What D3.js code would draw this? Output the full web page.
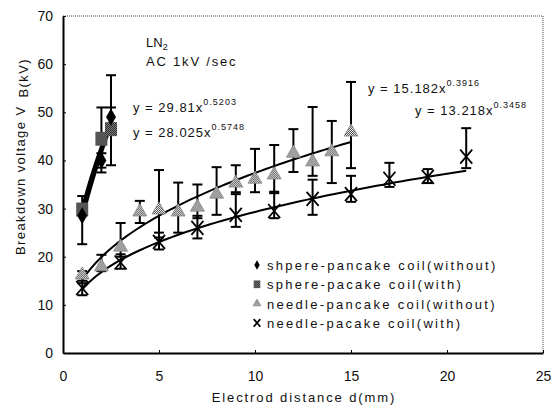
<!DOCTYPE html>
<html>
<head>
<meta charset="utf-8">
<script src="https://cdn.jsdelivr.net/npm/d3@7"></script>
<style>
  body { margin: 0; background: #fff; }
  text { font-family: "Liberation Sans", Arial, sans-serif; fill: #111; }
</style>
</head>
<body>
<svg width="553" height="407"></svg>
<script>
// data
var sphereX = [1, 2, 2.5];
var sphereWithout = [28.5, 40, 49];
var sphereWithoutLo = [28.5, 38.5, 47];
var sphereWithoutHi = [28.5, 41.5, 51];
var sphereWith = [29.8, 44.5, 46.5];
var sphereWithLo = [22.6, 37.5, 39];
var sphereWithHi = [32.6, 51, 57.7];

var needleX1 = [1, 2, 3, 4, 5, 6, 7, 8, 9, 10, 11, 12, 13, 14, 15];
var needleWithout = [16.2, 17.9, 22, 29.3, 29.7, 29.3, 30.3, 33, 35.3, 36.1, 37, 41.5, 39.7, 41.8, 45.9];
var needleWithoutLo = [14.5, 17, 20, 27, 24, 25, 28, 28.7, 33.4, 33.4, 33.5, 37.6, 36.8, 35.3, 38.4];
var needleWithoutHi = [17, 20.4, 27, 31.6, 38, 35.4, 35, 38.6, 39, 42.4, 43.2, 46.5, 51.1, 48.2, 56.3];

var needleX2 = [1, 3, 5, 7, 9, 11, 13, 15, 17, 19, 21];
var needleWith = [13.5, 18.8, 23.1, 26, 28.7, 29.5, 32, 33, 36.2, 36.6, 40.8];
var needleWithLo = [12, 17.5, 21.5, 23.8, 26.2, 28, 28.7, 31.4, 34.5, 35.3, 38.4];
var needleWithHi = [15, 20.5, 25, 28.5, 33, 33.2, 36, 36.8, 39.5, 38.2, 46.7];

// power fits shown on the chart: coefficient, exponent, x range
var fitCoef = [29.81, 28.025, 15.182, 13.218];
var fitExp = [0.5203, 0.5748, 0.3916, 0.3458];
var fitRange = [[1, 2.5], [1, 2.5], [1, 15], [1, 21]];

var xTicks = [0, 5, 10, 15, 20, 25];
var yTicks = [0, 10, 20, 30, 40, 50, 60, 70];
var legendLabels = ["shpere-pancake coil(without)", "sphere-pacake coil(with)",
                    "needle-pancake coil(without)", "needle-pacake coil(with)"];

var svg = d3.select("svg");
var x = d3.scaleLinear().domain([0, 25]).range([63, 543]);
var y = d3.scaleLinear().domain([0, 70]).range([353, 16]);

// stipple patterns
var defs = svg.append("defs");
function stipple(id, a, b) {
  var p = defs.append("pattern").attr("id", id)
    .attr("width", 2).attr("height", 2).attr("patternUnits", "userSpaceOnUse");
  p.append("rect").attr("width", 2).attr("height", 2).attr("fill", b);
  p.append("rect").attr("width", 1).attr("height", 1).attr("fill", a);
  p.append("rect").attr("x", 1).attr("y", 1).attr("width", 1).attr("height", 1).attr("fill", a);
}
stipple("triFill", "#555", "#e8e8e8");
stipple("sqFill", "#222", "#888");

// frame
svg.append("line").attr("x1", x(0)).attr("x2", x(25)).attr("y1", y(70)).attr("y2", y(70))
  .style("stroke", "#444").style("stroke-width", 1).style("stroke-dasharray", "1,1");
svg.append("line").attr("x1", x(25)).attr("x2", x(25)).attr("y1", y(70)).attr("y2", y(0))
  .style("stroke", "#444").style("stroke-width", 1).style("stroke-dasharray", "1,1");

svg.append("g").attr("transform", "translate(" + x(0) + ",0)")
  .call(d3.axisLeft(y).tickValues(yTicks).tickSizeInner(-3).tickSizeOuter(0).tickPadding(10))
  .call(function(g) {
    g.select(".domain").style("stroke", "#000").style("stroke-width", 2);
    g.selectAll("text").style("font-size", "14px").style("font-family", "Liberation Sans, Arial, sans-serif");
  });
svg.append("g").attr("transform", "translate(0," + y(0) + ")")
  .call(d3.axisBottom(x).tickValues(xTicks).tickSizeInner(-3).tickSizeOuter(0).tickPadding(18))
  .call(function(g) {
    g.select(".domain").style("stroke", "#000").style("stroke-width", 2);
    g.selectAll("text").style("font-size", "14px").style("font-family", "Liberation Sans, Arial, sans-serif");
  });

// axis titles
svg.append("text").attr("x", 304).attr("y", 402).attr("text-anchor", "middle")
  .style("font-size", "13px").style("letter-spacing", "1.9px")
  .text("Electrod distance d(mm)");
var yl = svg.append("text").attr("transform", "translate(25,255) rotate(-90)")
  .style("font-size", "13px").style("letter-spacing", "1.4px");
yl.append("tspan").text("Breakdown voltage V");
yl.append("tspan").attr("dx", 8).attr("dy", 3).style("font-size", "13px").text("B(kV)");

// fit lines
var line = d3.line().x(function(d) { return x(d[0]); }).y(function(d) { return y(d[1]); });
fitCoef.forEach(function(c, i) {
  var r = fitRange[i];
  var pts = d3.range(r[0], r[1] + 0.001, (r[1] - r[0]) / 60).map(function(t) {
    return [t, c * Math.pow(t, fitExp[i])];
  });
  svg.append("path").attr("d", line(pts)).style("fill", "none")
    .style("stroke", "#000").style("stroke-width", i < 2 ? 3.5 : 2);
});

// error bars
function errBars(xs, lo, hi) {
  var g = svg.append("g").style("stroke", "#000").style("stroke-width", 2);
  xs.forEach(function(xv, i) {
    if (hi[i] - lo[i] < 0.01) return;
    g.append("line").attr("x1", x(xv)).attr("x2", x(xv)).attr("y1", y(lo[i])).attr("y2", y(hi[i]));
    [lo[i], hi[i]].forEach(function(v) {
      g.append("line").attr("x1", x(xv) - 5).attr("x2", x(xv) + 5).attr("y1", y(v)).attr("y2", y(v));
    });
  });
}
errBars(needleX1, needleWithoutLo, needleWithoutHi);
errBars(needleX2, needleWithLo, needleWithHi);
errBars(sphereX, sphereWithLo, sphereWithHi);
errBars(sphereX, sphereWithoutLo, sphereWithoutHi);

// markers
var xPath = "M-6,-7L6,7M-6,7L6,-7";
function drawMarker(sel, kind, scale) {
  if (kind === 0) {
    sel.append("path").attr("d", d3.symbol().type(d3.symbolDiamond).size(85 * scale * scale)())
      .style("fill", "#000");
  } else if (kind === 1) {
    sel.append("rect").attr("x", -6 * scale).attr("y", -7 * scale)
      .attr("width", 12 * scale).attr("height", 14 * scale)
      .style("fill", "url(#sqFill)");
  } else if (kind === 2) {
    sel.append("path").attr("d", d3.symbol().type(d3.symbolTriangle).size(85 * scale * scale)())
      .style("fill", "url(#triFill)").style("stroke", "#888").style("stroke-width", 0.8);
  } else {
    sel.append("path").attr("d", xPath).attr("transform", "scale(" + scale + ")")
      .style("stroke", "#000").style("stroke-width", 1.8 / scale).style("fill", "none");
  }
}
function points(xs, vs, kind) {
  xs.forEach(function(xv, i) {
    var g = svg.append("g").attr("transform", "translate(" + x(xv) + "," + y(vs[i]) + ")");
    drawMarker(g, kind, 1);
  });
}
points(needleX1, needleWithout, 2);
points(needleX2, needleWith, 3);
points(sphereX, sphereWith, 1);
points(sphereX, sphereWithout, 0);

// legend
legendLabels.forEach(function(t, i) {
  var g = svg.append("g").attr("transform", "translate(257," + (265 + i * 19.3) + ")");
  drawMarker(g, i, 0.55);
  g.append("text").attr("x", 10).attr("y", 5).style("font-size", "13px")
    .style("letter-spacing", "2.3px").text(t);
});

// annotations
var ln = svg.append("text").attr("x", 146).attr("y", 47).style("font-size", "13px");
ln.append("tspan").text("LN");
ln.append("tspan").attr("dy", 3).style("font-size", "9px").text("2");
svg.append("text").attr("x", 146).attr("y", 66).style("font-size", "13px")
  .style("letter-spacing", "1.8px").text("AC 1kV /sec");

function eqn(px, py, c, e) {
  var t = svg.append("text").attr("x", px).attr("y", py).style("font-size", "13px")
    .style("letter-spacing", "1px");
  t.append("tspan").text("y  =  " + c + "x");
  t.append("tspan").attr("dy", -7).style("font-size", "9px").text(e);
}
eqn(133, 112, "29.81", "0.5203");
eqn(133, 137, "28.025", "0.5748");
eqn(368, 93, "15.182", "0.3916");
eqn(415, 115, "13.218", "0.3458");
</script>
</body>
</html>
